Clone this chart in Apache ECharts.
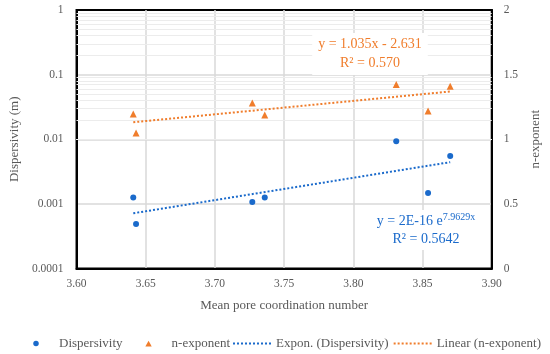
<!DOCTYPE html>
<html>
<head>
<meta charset="utf-8">
<script src="https://cdn.jsdelivr.net/npm/echarts@6/dist/echarts.min.js"></script>
<style>html,body{margin:0;padding:0;background:#fff}#c{width:550px;height:354px}</style>
</head>
<body>
<div id="c"></div>
<script>
// ---- data ----
const coordNumber  = [3.641, 3.643, 3.727, 3.736, 3.831, 3.854, 3.870];
const dispersivity = [0.00126, 0.00049, 0.00107, 0.00126, 0.0093, 0.00147, 0.0055];
const nExponent    = [1.196, 1.049, 1.281, 1.188, 1.424, 1.219, 1.411];
const xTickLabels  = ['3.60', '3.65', '3.70', '3.75', '3.80', '3.85', '3.90'];
const leftTickLabels  = ['0.0001', '0.001', '0.01', '0.1', '1'];
const rightTickLabels = ['0', '0.5', '1', '1.5', '2'];
const seriesNames = ['Dispersivity', 'n-exponent', 'Expon. (Dispersivity)', 'Linear (n-exponent)'];
const eqLinear = ['y = 1.035x - 2.631', 'R² = 0.570'];
const eqExpon  = ['y = 2E-16 e', '7.9629x', 'R² = 0.5642'];

// ---- trendlines fitted (least squares) from the data, as a spreadsheet does ----
function linFit(xs, ys) {
  const n = xs.length;
  const mx = xs.reduce((a, b) => a + b, 0) / n;
  const my = ys.reduce((a, b) => a + b, 0) / n;
  let sxy = 0, sxx = 0;
  for (let i = 0; i < n; i++) { sxy += (xs[i] - mx) * (ys[i] - my); sxx += (xs[i] - mx) ** 2; }
  const b = sxy / sxx;
  return { b, a: my - b * mx };
}
const xMin = Math.min(...coordNumber), xMax = Math.max(...coordNumber);
const lf = linFit(coordNumber, nExponent);
const linTrend = [xMin, xMax].map(x => [x, lf.a + lf.b * x]);
const ef = linFit(coordNumber, dispersivity.map(Math.log));
const expTrend = [xMin, xMax].map(x => [x, Math.exp(ef.a + ef.b * x)]);

// minor log gridlines (2..9 per decade)
const minorGrid = [];
for (let e = -4; e < 0; e++) for (let m = 2; m <= 9; m++) minorGrid.push({ yAxis: m * Math.pow(10, e) });

const BLUE = '#1a6acb', ORANGE = '#f07d2c', GREY = '#595959';
const FONT = 'Liberation Serif';
// legend icons: the leading moveTo points span the full icon box so the marker sits centred
const ICON_CIRCLE = 'path://M0,0M36,7M15.25,3.5a2.75,2.75 0 1,0 5.5,0a2.75,2.75 0 1,0 -5.5,0Z';
const ICON_TRI = 'path://M0,0M36,7M18,0.8L21.2,6.4L14.8,6.4Z';
const ICON_DOTS = 'path://M0,0h2v2h-2zM4,0h2v2h-2zM8,0h2v2h-2zM12,0h2v2h-2zM16,0h2v2h-2zM20,0h2v2h-2zM24,0h2v2h-2zM28,0h2v2h-2zM32,0h2v2h-2zM36,0h2v2h-2z';

const chart = echarts.init(document.getElementById('c'), null, { renderer: 'canvas' });
chart.setOption({
  animation: false,
  backgroundColor: '#fff',
  textStyle: { fontFamily: FONT, color: GREY },
  grid: { left: 72, right: 48.5, top: 10, bottom: 85.5, show: true, borderColor: '#000', borderWidth: 2, backgroundColor: 'transparent', containLabel: false },
  xAxis: {
    type: 'value', min: 3.6, max: 3.9, interval: 0.05,
    name: 'Mean pore coordination number', nameLocation: 'middle', nameGap: 31,
    nameTextStyle: { fontFamily: FONT, fontSize: 13, color: GREY },
    axisLine: { show: true, lineStyle: { color: '#000', width: 2 } },
    axisTick: { show: false },
    axisLabel: { margin: 9, fontFamily: FONT, fontSize: 11.5, color: GREY,
      formatter: v => xTickLabels[Math.round((v - 3.6) / 0.05)] },
    splitLine: { show: true, showMinLine: false, showMaxLine: false, lineStyle: { color: '#d9d9d9', width: 1.5 } }
  },
  yAxis: [{
    type: 'log', logBase: 10, min: 0.0001, max: 1, splitNumber: 4,
    name: 'Dispersivity (m)', nameLocation: 'middle', nameGap: 50, nameRotate: 90,
    nameTextStyle: { fontFamily: FONT, fontSize: 13, color: GREY },
    axisLine: { show: true, lineStyle: { color: '#000', width: 2 } },
    axisTick: { show: false },
    axisLabel: { margin: 13, fontFamily: FONT, fontSize: 11.5, color: GREY,
      formatter: v => leftTickLabels[Math.round(Math.log10(v) + 4)] },
    splitLine: { show: true, showMinLine: false, showMaxLine: false, lineStyle: { color: '#d9d9d9', width: 1.5 } }
  }, {
    type: 'value', min: 0, max: 2, interval: 0.5, position: 'right',
    name: 'n-exponent', nameLocation: 'middle', nameGap: 30, nameRotate: 90,
    nameTextStyle: { fontFamily: FONT, fontSize: 13, color: GREY },
    axisLine: { show: true, lineStyle: { color: '#000', width: 2 } },
    axisTick: { show: false },
    axisLabel: { margin: 12, fontFamily: FONT, fontSize: 11.5, color: GREY,
      formatter: v => rightTickLabels[Math.round(v / 0.5)] },
    splitLine: { show: false }
  }],
  legend: [{
    data: [{ name: seriesNames[0], icon: ICON_CIRCLE }, { name: seriesNames[1], icon: ICON_TRI }],
    left: 13, top: 332, itemWidth: 36, itemHeight: 7, itemGap: 8, symbolKeepAspect: true,
    textStyle: { fontFamily: FONT, fontSize: 13, color: GREY }
  }, {
    data: [{ name: seriesNames[2], icon: ICON_DOTS }, { name: seriesNames[3], icon: ICON_DOTS }],
    left: 228, top: 332, itemWidth: 38, itemHeight: 2, itemGap: 5, symbolKeepAspect: true,
    textStyle: { fontFamily: FONT, fontSize: 13, color: GREY }
  }],
  series: [{
    name: seriesNames[0], type: 'scatter', yAxisIndex: 0,
    symbol: 'circle', symbolSize: 6, itemStyle: { color: BLUE, opacity: 1 },
    data: coordNumber.map((x, i) => [x, dispersivity[i]]), z: 5,
    markLine: {
      silent: true, symbol: 'none', label: { show: false }, z: 1,
      lineStyle: { color: '#ececec', width: 1, type: 'solid' },
      emphasis: { disabled: true },
      data: minorGrid
    }
  }, {
    name: seriesNames[1], type: 'scatter', yAxisIndex: 1,
    symbol: 'triangle', symbolSize: 7, itemStyle: { color: ORANGE, opacity: 1 },
    data: coordNumber.map((x, i) => [x, nExponent[i]]), z: 5
  }, {
    name: seriesNames[2], type: 'line', yAxisIndex: 0,
    showSymbol: false, symbol: 'none', data: expTrend, z: 4,
    lineStyle: { color: BLUE, width: 2, type: [2, 2] }, itemStyle: { color: BLUE }
  }, {
    name: seriesNames[3], type: 'line', yAxisIndex: 1,
    showSymbol: false, symbol: 'none', data: linTrend, z: 4,
    lineStyle: { color: ORANGE, width: 2, type: [2, 2] }, itemStyle: { color: ORANGE }
  }],
  graphic: [{
    type: 'text', x: 370, y: 33, z: 20,
    style: {
      text: '{b|' + eqLinear[0] + '}\n{b|' + eqLinear[1] + '}',
      fill: ORANGE, align: 'center', verticalAlign: 'top',
      backgroundColor: '#fff', padding: [2, 6, 2, 6],
      rich: { b: { fontFamily: FONT, fontSize: 14, fill: ORANGE, lineHeight: 19, align: 'center' } }
    }
  }, {
    type: 'text', x: 426, y: 210, z: 20,
    style: {
      text: '{b|' + eqExpon[0] + '}{s|' + eqExpon[1] + '}\n{b|' + eqExpon[2] + '}',
      fill: BLUE, align: 'center', verticalAlign: 'top',
      backgroundColor: '#fff', padding: [2, 6, 2, 6],
      rich: {
        b: { fontFamily: FONT, fontSize: 14, fill: BLUE, lineHeight: 18, align: 'center' },
        s: { fontFamily: FONT, fontSize: 10, fill: BLUE, lineHeight: 18, padding: [0, 0, 7, 0], align: 'center' }
      }
    }
  }]
});
</script>
</body>
</html>
